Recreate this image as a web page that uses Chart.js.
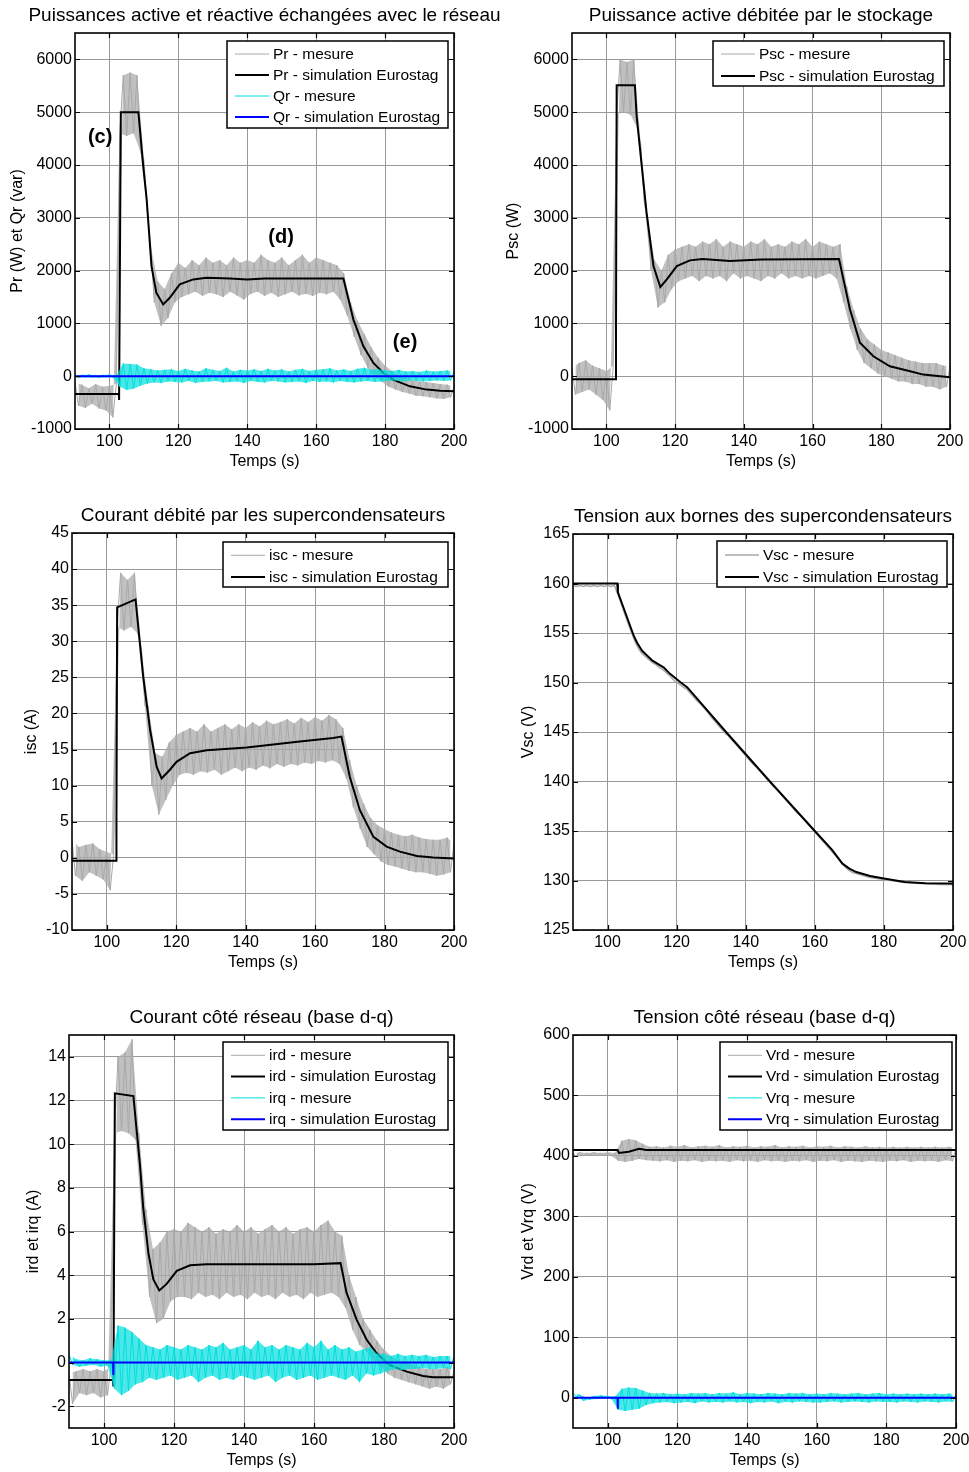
<!DOCTYPE html>
<html lang="fr">
<head>
<meta charset="utf-8">
<title>Essais supercondensateurs - mesure et simulation Eurostag</title>
<script src="https://cdn.jsdelivr.net/npm/chart.js@4.4.1/dist/chart.umd.min.js"></script>
<style>
html,body{margin:0;padding:0;background:#fff;}
body{position:relative;width:969px;height:1472px;overflow:hidden;}
canvas{position:absolute;}
</style>
</head>
<body>
<canvas id="c1" width="510" height="473" style="left:0;top:0"></canvas>
<canvas id="c2" width="485" height="473" style="left:484px;top:0"></canvas>
<canvas id="c3" width="510" height="474" style="left:0;top:500px"></canvas>
<canvas id="c4" width="485" height="473" style="left:484px;top:501px"></canvas>
<canvas id="c5" width="510" height="470" style="left:0;top:1002px"></canvas>
<canvas id="c6" width="485" height="470" style="left:484px;top:1002px"></canvas>
<script>
// ---------------- DATA ----------------
const xTicks = [100, 120, 140, 160, 180, 200];

// sample times of the measured signals (s)
const tMes = [
  90,91,92,93,94,95,96,97,98,99,
  100,101,102,103,104,105,106,107,108,109,
  110,111,112,113,114,115,116,117,118,119,
  120,121,122,123,124,125,126,127,128,129,
  130,131,132,133,134,135,136,137,138,139,
  140,141,142,143,144,145,146,147,148,149,
  150,151,152,153,154,155,156,157,158,159,
  160,161,162,163,164,165,166,167,168,169,
  170,171,172,173,174,175,176,177,178,179,
  180,181,182,183,184,185,186,187,188,189,
  190,191,192,193,194,195,196,197,198,199,
  200
];

// Panel 1 : Pr / Qr
const yTicksPower = [-1000, 0, 1000, 2000, 3000, 4000, 5000, 6000];
const prMes = [
  -120,-560,-160,-600,-230,-520,-150,-610,-200,-650,
  -180,-780,-150,4600,5700,4550,5750,4600,5700,4250,
  4100,3100,2450,1400,1800,950,1650,1100,1950,1400,
  2150,1500,2050,1550,2200,1600,2100,1520,2250,1580,
  2150,1550,2200,1500,2100,1600,2250,1530,2150,1450,
  2200,1560,2150,1600,2300,1520,2200,1580,2150,1500,
  2250,1550,2100,1600,2200,1530,2300,1560,2150,1520,
  2250,1580,2200,1550,2150,1600,2100,1450,1950,1150,
  1400,750,1050,400,800,150,550,0,350,-100,
  200,-200,100,-250,0,-300,-30,-330,-80,-370,
  -100,-380,-110,-400,-130,-420,-150,-430,-160,-400,
  -200
];
const prSimT = [90,102.7,102.8,103.3,108.4,109.8,110.8,112.2,113.6,115.6,117.5,120.4,124.3,128.2,135,140,145,155,167.9,170.8,173.7,176.6,179.5,182.3,187.2,192.1,196,200];
const prSimV = [-336,-336,-450,5000,5000,3983,3351,2085,1581,1359,1486,1738,1833,1865,1850,1830,1850,1850,1850,1074,567,252,63,-65,-192,-254,-275,-287];
const qrMes = [
  20,-30,25,-20,30,-25,20,-30,25,-20,
  30,-25,20,-200,240,-260,230,-240,220,-180,
  150,-140,130,-120,110,-130,120,-100,130,-110,
  100,-120,140,-90,110,-130,90,-110,150,-100,
  120,-90,100,-120,160,-110,90,-100,120,-130,
  110,-90,130,-110,100,-120,140,-90,110,-100,
  130,-120,90,-110,120,-100,140,-130,100,-90,
  120,-110,130,-100,150,-120,110,-90,130,-110,
  100,-120,140,-100,160,-90,120,-110,130,-100,
  110,-90,100,-80,120,-100,90,-80,100,-90,
  80,-100,110,-90,90,-80,100,-90,110,-80,
  90
];
const qrSimT = [90, 200];
const qrSimV = [0, 0];

// Panel 2 : Psc
const pscMes = [
  150,-350,250,-300,300,-250,200,-350,150,-450,
  100,-650,200,4950,6000,5000,5950,4950,6000,4700,
  4400,3300,3000,2000,2200,1300,2000,1400,2300,1650,
  2400,1800,2450,1850,2500,1900,2450,1800,2550,1900,
  2500,1850,2600,1900,2450,1800,2550,1950,2500,1850,
  2450,1900,2550,1850,2500,1800,2600,1900,2450,1850,
  2500,1950,2450,1850,2550,1900,2500,1850,2600,1900,
  2450,1850,2550,1900,2500,1950,2450,1850,2500,1400,
  1700,900,1250,500,900,250,700,150,600,50,
  500,0,450,-50,400,-100,350,-100,300,-150,
  280,-150,250,-200,250,-200,250,-250,200,-200,
  200
];
const pscSimT = [90,102.7,102.8,103.0,108.3,108.8,111.7,113.7,115.7,117.6,120.5,124.3,128,136,145,167.7,170.9,173.8,177.7,182.5,188.4,192.2,200];
const pscSimV = [-60,-60,800,5510,5510,4932,3099,2085,1690,1833,2085,2194,2220,2180,2210,2220,1264,632,378,188,93,30,-21];

// Panel 3 : isc
const yTicksIsc = [-10, -5, 0, 5, 10, 15, 20, 25, 30, 35, 40, 45];
const iscMes = [
  2.5,-2.5,1.5,-3.2,1.8,-2.0,2.0,-2.5,1.2,-3.0,
  0.8,-4.5,0.5,32,39.5,31.5,38.5,32,39.5,31,
  29,21,21,10,14.5,6,14,8,16,10,
  17,11.5,17.5,11.8,18,11.5,17.5,12,18.5,11.8,
  17.5,12.2,18,11.5,18.5,12,17.8,12.5,18.5,12,
  18,12.5,18.8,12.2,18.2,12.8,19,12.4,18.5,13,
  18.8,12.6,19.2,13,18.6,12.8,19.4,13.2,18.8,13,
  19.5,13.4,19,13.2,19.8,13.5,19.2,13,18,11,
  13.5,7,10,4,7.5,1.5,5.5,0.5,4.5,-0.5,
  4,-1,3.5,-1.2,3.2,-1.5,3,-1.8,3.2,-2,
  2.8,-2,2.6,-2.2,2.5,-2.5,2.5,-2.3,2.8,-2,
  2
];
const iscSimT = [90,102.7,102.8,103.0,108.3,110.5,112.5,114.4,115.8,118.2,120.1,124,128.8,140.3,155.6,165.2,167.6,170,172.9,176.8,180.6,184.4,189.3,194,200];
const iscSimV = [-0.4,-0.4,5,34.7,35.8,25.1,17.7,12.6,11.0,12.2,13.3,14.5,14.9,15.3,16.1,16.6,16.8,11.2,6.6,2.9,1.55,0.86,0.26,0.03,-0.1];

// Panel 4 : Vsc
const yTicksVsc = [125, 130, 135, 140, 145, 150, 155, 160, 165];
const vscMes = [
  159.8,159.7,159.8,159.7,159.8,159.7,159.8,159.7,159.8,159.7,
  159.8,159.7,159.8,158.9,157.9,156.9,155.9,155.0,154.1,153.4,
  152.9,152.6,152.3,152.0,151.8,151.5,151.3,151.0,150.7,150.3,
  150.0,149.8,149.5,149.3,148.9,148.5,148.1,147.8,147.4,147.0,
  146.5,146.1,145.7,145.3,144.9,144.6,144.2,143.8,143.4,143.0,
  142.6,142.2,141.8,141.5,141.1,140.7,140.3,139.9,139.5,139.2,
  138.8,138.4,138.0,137.6,137.2,136.8,136.5,136.1,135.7,135.3,
  134.9,134.5,134.1,133.7,133.3,132.9,132.5,132.1,131.7,131.3,
  131.0,130.8,130.7,130.6,130.5,130.4,130.3,130.25,130.2,130.15,
  130.1,130.05,130.0,129.95,129.9,129.85,129.8,129.8,129.75,129.75,
  129.7,129.7,129.7,129.65,129.65,129.65,129.6,129.6,129.6,129.6,
  129.6
];
const vscSimT = [90,102.8,103,105,107.6,108.6,110,111.5,113,116.3,118,121.2,123.1,134.3,147,160,165,168,170,172,176,180,186,192,200];
const vscSimV = [160,160,159.1,157.2,154.7,154.0,153.2,152.7,152.2,151.5,150.9,150,149.5,145,140,135,133.1,131.7,131.2,130.85,130.45,130.2,129.85,129.72,129.7];

// Panel 5 : ird / irq
const yTicksIr = [-2, 0, 2, 4, 6, 8, 10, 12, 14];
const irdMes = [
  -0.5,-1.9,-0.4,-1.4,-0.3,-1.5,-0.4,-1.4,-0.3,-1.6,
  -0.4,-1.5,-0.2,10.5,14,10.6,14.2,10.5,14.8,10.2,
  10.5,6.3,7.0,3.0,5.2,1.8,5.5,2.0,6.0,2.8,
  6.1,3.0,6.0,3.0,6.4,2.9,6.2,3.2,6.0,3.0,
  6.2,3.1,5.9,2.9,6.1,3.2,6.0,3.0,6.3,3.1,
  6.0,2.9,6.2,3.2,5.9,3.0,6.1,3.1,6.3,2.9,
  6.0,3.2,6.2,3.0,5.9,3.1,6.1,2.9,6.2,3.2,
  6.0,3.0,6.3,3.1,6.5,3.2,6.0,3.0,5.8,2.5,
  4.0,1.5,3.0,0.8,2.0,0.5,1.5,0.1,1.0,-0.2,
  0.6,-0.5,0.3,-0.7,0.1,-0.8,0.0,-0.9,-0.1,-1.0,
  -0.2,-1.1,-0.3,-1.2,-0.3,-1.1,-0.3,-1.2,-0.2,-1.0,
  -0.4
];
const irdSimT = [90,102.6,102.7,103.1,108.4,110.3,111.2,112.7,114.1,115.8,117.9,120.8,124.6,129.3,160,167.6,169.3,172.2,175.1,177.9,181.7,186.5,191.2,194,200];
const irdSimV = [-0.8,-0.8,-1.1,12.33,12.2,9.0,7.1,5.0,3.8,3.3,3.6,4.2,4.45,4.5,4.5,4.55,3.2,1.95,1.03,0.42,-0.12,-0.42,-0.62,-0.68,-0.68];
const irqMes = [
  0.4,-0.1,0.15,-0.2,0.1,-0.15,0.2,-0.1,0.15,-0.2,
  0.1,-0.15,0.1,-1.2,1.7,-1.5,1.6,-1.3,1.4,-1.0,
  1.1,-0.9,0.8,-0.7,0.7,-0.8,0.6,-0.7,0.8,-0.6,
  0.7,-0.8,0.6,-0.7,0.8,-0.6,0.7,-0.9,0.6,-0.7,
  0.8,-0.6,0.7,-0.8,0.9,-0.7,0.6,-0.8,0.7,-0.6,
  0.8,-0.7,0.6,-0.8,1.0,-0.7,0.7,-0.6,0.8,-0.9,
  0.6,-0.7,0.8,-0.6,0.7,-0.8,0.6,-0.7,0.9,-0.6,
  0.7,-0.8,1.0,-0.7,0.6,-0.6,0.8,-0.7,0.6,-0.8,
  0.7,-0.6,0.5,-0.9,0.6,-0.5,0.7,-0.6,0.4,-0.5,
  0.4,-0.4,0.3,-0.3,0.4,-0.35,0.3,-0.3,0.35,-0.3,
  0.3,-0.25,0.35,-0.3,0.25,-0.3,0.3,-0.25,0.3,-0.3,
  0.3
];
const irqSimT = [90, 102.6, 102.65, 102.7, 200];
const irqSimV = [0, 0, -0.57, 0, 0];

// Panel 6 : Vrd / Vrq
const yTicksVr = [0, 100, 200, 300, 400, 500, 600];
const vrdMes = [
  405,399,406,400,405,401,406,400,405,401,
  406,400,405,392,425,390,428,392,426,395,
  420,393,415,392,416,391,414,393,417,390,
  415,392,418,391,414,393,416,390,417,392,
  415,391,418,392,414,390,416,393,415,391,
  417,392,414,390,416,393,415,391,418,392,
  414,390,416,392,415,391,417,393,414,390,
  416,392,415,391,417,393,414,390,416,392,
  415,391,414,390,416,392,414,391,415,390,
  414,392,415,391,414,393,415,390,414,392,
  415,391,414,392,415,390,414,393,415,391,
  414
];
const vrdSimT = [90, 102.8, 103.2, 106, 109, 111, 200];
const vrdSimV = [410, 410, 405, 407, 412, 410, 410];
const vrqMes = [
  8,2,5,-5,0,-3,3,-2,4,-1,
  3,-2,2,-20,15,-22,17,-20,16,-18,
  12,-12,8,-9,7,-8,8,-7,6,-9,
  7,-8,6,-7,8,-9,7,-6,8,-8,
  6,-7,8,-8,7,-6,9,-8,6,-7,
  8,-9,7,-7,6,-8,8,-6,7,-9,
  6,-7,8,-8,7,-6,8,-7,6,-8,
  7,-8,6,-7,8,-6,7,-8,6,-7,
  7,-6,8,-7,6,-8,7,-6,8,-7,
  6,-7,7,-8,6,-6,7,-7,6,-8,
  7,-6,6,-7,7,-8,6,-6,7,-7,
  5
];
const vrqSimT = [90, 102.8, 102.85, 102.9, 200];
const vrqSimV = [0, 0, -18, 0, 0];

// ---------------- STYLE / HELPERS ----------------
const FONT = '"Liberation Sans", Arial, Helvetica, sans-serif';
Chart.defaults.font.family = FONT;
Chart.defaults.color = '#000';
const GRAY = '#a9a9a9', BLACK = '#000000', CYAN = '#00dede', BLUE = '#0000ff', GRID = '#999999';
const GRAY_BAND = 'rgba(171,171,171,0.75)', CYAN_BAND = 'rgba(0,222,222,0.7)';

function pts(t, v) { return t.map((x, i) => ({ x: x, y: v[i] })); }
function series(label, t, v, color, width) {
  return { label: label, data: pts(t, v), borderColor: color, backgroundColor: color,
           borderWidth: width, pointRadius: 0, tension: 0, fill: false };
}
// measured signal: zigzag line + shaded band between its upper and lower samples
function mesure(label, t, v, color, bandColor) {
  const even = (x, i) => i % 2 === 0, odd = (x, i) => i % 2 === 1;
  return [
    { label: '', isBand: true, data: pts(t.filter(even), v.filter(even)), borderColor: 'rgba(0,0,0,0)',
      borderWidth: 1, pointRadius: 0, tension: 0, fill: false },
    { label: '', isBand: true, data: pts(t.filter(odd), v.filter(odd)), borderColor: 'rgba(0,0,0,0)',
      borderWidth: 1, pointRadius: 0, tension: 0, fill: '-1', backgroundColor: bandColor },
    series(label, t, v, color, 1)
  ];
}

const panelPlugin = {
  id: 'panel',
  afterDatasetsDraw(chart) {
    const { ctx, chartArea: a, scales } = chart;
    ctx.save();
    ctx.strokeStyle = '#000';
    ctx.lineWidth = 1.2;
    ctx.beginPath();
    scales.x.ticks.forEach(t => {
      const px = Math.round(scales.x.getPixelForValue(t.value)) + 0.5;
      ctx.moveTo(px, a.bottom); ctx.lineTo(px, a.bottom - 5);
      ctx.moveTo(px, a.top); ctx.lineTo(px, a.top + 5);
    });
    scales.y.ticks.forEach(t => {
      const py = Math.round(scales.y.getPixelForValue(t.value)) + 0.5;
      ctx.moveTo(a.left, py); ctx.lineTo(a.left + 5, py);
      ctx.moveTo(a.right, py); ctx.lineTo(a.right - 5, py);
    });
    ctx.stroke();
    ctx.lineWidth = 1.6;
    ctx.strokeRect(a.left, a.top, a.right - a.left, a.bottom - a.top);
    ctx.restore();
  },
  afterDraw(chart, args, o) {
    const { ctx, chartArea: a, scales } = chart;
    ctx.save();
    ctx.fillStyle = '#000';
    ctx.textAlign = 'center';
    ctx.textBaseline = 'middle';
    ctx.font = '19px ' + FONT;
    ctx.fillText(o.title, (a.left + a.right) / 2, a.top - 17);
    ctx.font = 'bold 20px ' + FONT;
    (o.notes || []).forEach(n => {
      ctx.fillText(n.text, scales.x.getPixelForValue(n.x), scales.y.getPixelForValue(n.y));
    });
    const L = o.legend;
    if (L) {
      ctx.fillStyle = '#fff';
      ctx.fillRect(L.x, L.y, L.w, L.h);
      ctx.strokeStyle = '#000';
      ctx.lineWidth = 1.5;
      ctx.strokeRect(L.x, L.y, L.w, L.h);
      ctx.font = '15.5px ' + FONT;
      ctx.textAlign = 'left';
      ctx.fillStyle = '#000';
      let row = 0;
      chart.data.datasets.forEach(ds => {
        if (ds.isBand) return;
        const y = L.y + L.first + row * L.rowH;
        ctx.strokeStyle = ds.borderColor;
        ctx.lineWidth = ds.borderWidth;
        ctx.beginPath();
        ctx.moveTo(L.x + 8, y); ctx.lineTo(L.x + 42, y);
        ctx.stroke();
        ctx.fillText(ds.label, L.x + 46, y + 0.5);
        row++;
      });
    }
    ctx.restore();
  }
};

function makePanel(id, cfg) {
  const list = cfg.series.flat();
  const n = list.length;
  list.forEach((s, i) => { s.order = n - i; });
  return new Chart(document.getElementById(id), {
    type: 'line',
    data: { datasets: list },
    options: {
      responsive: false, animation: false, devicePixelRatio: 1, events: [],
      layout: { padding: { top: 33, left: 0, right: cfg.R, bottom: 0 } },
      plugins: {
        legend: { display: false }, tooltip: { enabled: false }, title: { display: false },
        filler: { propagate: false },
        panel: { title: cfg.title, notes: cfg.notes, legend: cfg.legend }
      },
      scales: {
        x: {
          type: 'linear', min: 90, max: 200,
          afterBuildTicks: s => { s.ticks = xTicks.map(v => ({ value: v })); },
          afterFit: s => { s.height = 44; s.paddingLeft = 0; s.paddingRight = 0; },
          grid: { color: GRID, lineWidth: 1, drawTicks: false },
          border: { display: false },
          ticks: { padding: 3, font: { size: 16 }, color: '#000', autoSkip: false, maxRotation: 0, callback: v => String(v) },
          title: { display: true, text: 'Temps (s)', font: { size: 16 }, color: '#000', padding: { top: 0, bottom: 2 } }
        },
        y: {
          type: 'linear', min: cfg.yMin, max: cfg.yMax,
          afterBuildTicks: s => { s.ticks = cfg.yTicks.map(v => ({ value: v })); },
          afterFit: s => { s.width = cfg.W; s.paddingTop = 0; s.paddingBottom = 0; },
          grid: { color: GRID, lineWidth: 1, drawTicks: false },
          border: { display: false },
          ticks: { padding: 3, font: { size: 16 }, color: '#000', autoSkip: false, callback: v => String(v) },
          title: { display: true, text: cfg.yTitle, font: { size: 16 }, color: '#000', padding: { top: cfg.yPad, bottom: 0 } }
        }
      }
    },
    plugins: [panelPlugin]
  });
}

// ---------------- PANELS ----------------
makePanel('c1', {
  title: 'Puissances active et réactive échangées avec le réseau',
  yTitle: 'Pr (W) et Qr (var)', yPad: 7.9, W: 75, R: 56,
  yMin: -1000, yMax: 6500, yTicks: yTicksPower,
  series: [
    mesure('Pr - mesure', tMes, prMes, GRAY, GRAY_BAND),
    series('Pr - simulation Eurostag', prSimT, prSimV, BLACK, 2),
    mesure('Qr - mesure', tMes, qrMes, CYAN, CYAN_BAND),
    series('Qr - simulation Eurostag', qrSimT, qrSimV, BLUE, 2)
  ],
  legend: { x: 227, y: 41, w: 221, h: 87, first: 13, rowH: 21 },
  notes: [ { text: '(c)', x: 97.3, y: 4527 }, { text: '(d)', x: 149.8, y: 2629 }, { text: '(e)', x: 185.8, y: 640 } ]
});

makePanel('c2', {
  title: 'Puissance active débitée par le stockage',
  yTitle: 'Psc (W)', yPad: 20.1, W: 88, R: 19,
  yMin: -1000, yMax: 6500, yTicks: yTicksPower,
  series: [
    mesure('Psc - mesure', tMes, pscMes, GRAY, GRAY_BAND),
    series('Psc - simulation Eurostag', pscSimT, pscSimV, BLACK, 2)
  ],
  legend: { x: 229, y: 41, w: 231, h: 45, first: 13, rowH: 22 }
});

makePanel('c3', {
  title: 'Courant débité par les supercondensateurs',
  yTitle: 'isc (A)', yPad: 22.1, W: 72, R: 56,
  yMin: -10, yMax: 45, yTicks: yTicksIsc,
  series: [
    mesure('isc - mesure', tMes, iscMes, GRAY, GRAY_BAND),
    series('isc - simulation Eurostag', iscSimT, iscSimV, BLACK, 2)
  ],
  legend: { x: 223, y: 42, w: 225, h: 45, first: 13.3, rowH: 21.7 }
});

makePanel('c4', {
  title: 'Tension aux bornes des supercondensateurs',
  yTitle: 'Vsc (V)', yPad: 35.1, W: 89, R: 16,
  yMin: 125, yMax: 165, yTicks: yTicksVsc,
  series: [
    series('Vsc - mesure', tMes, vscMes, GRAY, 1.5),
    series('Vsc - simulation Eurostag', vscSimT, vscSimV, BLACK, 2)
  ],
  legend: { x: 233, y: 40, w: 230, h: 46, first: 14, rowH: 22 }
});

makePanel('c5', {
  title: 'Courant côté réseau (base d-q)',
  yTitle: 'ird et irq (A)', yPad: 23.7, W: 69, R: 56,
  yMin: -3, yMax: 15, yTicks: yTicksIr,
  series: [
    mesure('ird - mesure', tMes, irdMes, GRAY, GRAY_BAND),
    series('ird - simulation Eurostag', irdSimT, irdSimV, BLACK, 2),
    mesure('irq - mesure', tMes, irqMes, CYAN, CYAN_BAND),
    series('irq - simulation Eurostag', irqSimT, irqSimV, BLUE, 2)
  ],
  legend: { x: 223, y: 40, w: 225, h: 88, first: 13.3, rowH: 21.3 }
});

makePanel('c6', {
  title: 'Tension côté réseau (base d-q)',
  yTitle: 'Vrd et Vrq (V)', yPad: 35.1, W: 89, R: 13,
  yMin: -50, yMax: 600, yTicks: yTicksVr,
  series: [
    mesure('Vrd - mesure', tMes, vrdMes, GRAY, GRAY_BAND),
    series('Vrd - simulation Eurostag', vrdSimT, vrdSimV, BLACK, 2),
    mesure('Vrq - mesure', tMes, vrqMes, CYAN, CYAN_BAND),
    series('Vrq - simulation Eurostag', vrqSimT, vrqSimV, BLUE, 2)
  ],
  legend: { x: 236, y: 40, w: 232, h: 88, first: 13.3, rowH: 21.3 }
});
</script>
</body>
</html>
